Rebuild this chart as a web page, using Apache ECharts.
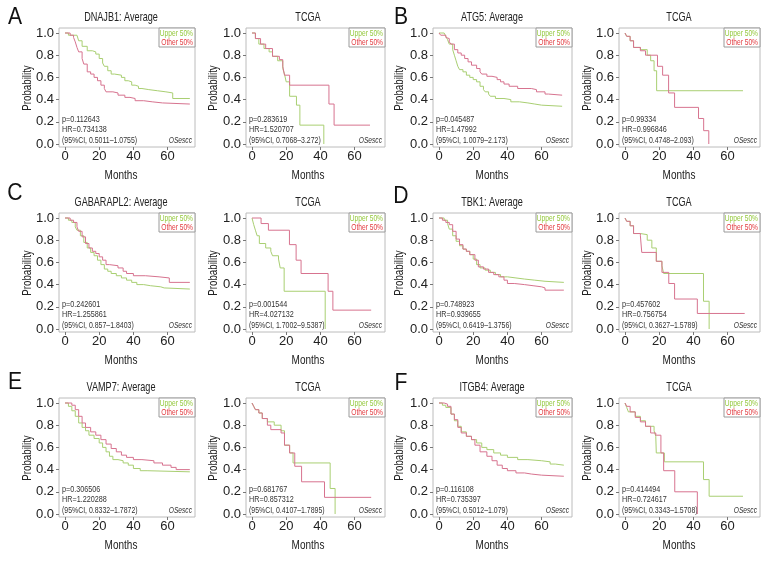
<!DOCTYPE html>
<html><head><meta charset="utf-8">
<script src="https://cdn.jsdelivr.net/npm/echarts@6/dist/echarts.min.js"></script>
<style>html,body{margin:0;padding:0;background:#fff}#c{width:780px;height:564px}</style>
</head><body><div id="c"></div><script>
// ---------- data ----------
const letters = ['A','B','C','D','E','F'];
const titles = ['DNAJB1: Average','TCGA','ATG5: Average','TCGA','GABARAPL2: Average','TCGA','TBK1: Average','TCGA','VAMP7: Average','TCGA','ITGB4: Average','TCGA'];
const pValues = ['0.112643','0.283619','0.045487','0.99334','0.242601','0.001544','0.748923','0.457602','0.306506','0.681767','0.116108','0.414494'];
const hrValues = ['0.734138','1.520707','1.47992','0.996846','1.255861','4.027132','0.939655','0.756754','1.220288','0.857312','0.735397','0.724617'];
const ciValues = ['0.5011–1.0755','0.7068–3.272','1.0079–2.173','0.4748–2.093','0.857–1.8403','1.7002–9.5387','0.6419–1.3756','0.3627–1.5789','0.8332–1.7872','0.4107–1.7895','0.5012–1.079','0.3343–1.5708'];
const legendNames = ['Upper 50%','Other 50%'];
const xTicks = [0,20,40,60];
const yTicks = [0,0.2,0.4,0.6,0.8,1.0];

const dnajb1AvgUpper = [[0,1],[2,0.98],[7,0.97],[8,0.93],[10,0.88],[13,0.84],[16,0.83],[18,0.81],[20,0.77],[22,0.73],[23,0.70],[25,0.66],[27,0.63],[29,0.62],[33,0.60],[35,0.57],[37,0.56],[39,0.53],[41,0.52],[43,0.50],[45,0.49],[49,0.48],[54,0.47],[59,0.46],[63,0.41],[73,0.41]];
const dnajb1AvgOther = [[0,1],[3,0.98],[5,0.96],[6,0.92],[7,0.87],[8,0.83],[10,0.77],[11,0.72],[13,0.65],[15,0.63],[17,0.60],[19,0.57],[21,0.53],[23,0.50],[24,0.47],[28,0.46],[31,0.44],[35,0.42],[38,0.41],[41,0.39],[46,0.38],[51,0.37],[57,0.36],[73,0.36]];
const dnajb1TcgaUpper = [[0,1],[2,0.95],[4,0.90],[7,0.86],[10,0.83],[12,0.79],[15,0.75],[18,0.68],[19,0.63],[20,0.56],[22,0.43],[26,0.35],[28,0.17],[42,0]];
const dnajb1TcgaOther = [[0,1],[2,0.95],[5,0.90],[8,0.86],[12,0.79],[16,0.76],[18,0.70],[19,0.62],[22,0.53],[45,0.36],[48,0.17],[69,0.17]];

const atg5AvgUpper = [[0,1],[3,1],[4,0.97],[5,0.94],[6,0.90],[8,0.85],[9,0.80],[10,0.75],[11,0.70],[12,0.67],[14,0.65],[16,0.62],[18,0.60],[20,0.58],[22,0.56],[24,0.52],[26,0.49],[27,0.47],[29,0.45],[30,0.43],[33,0.41],[38,0.40],[42,0.38],[47,0.37],[52,0.36],[56,0.35],[60,0.34],[72,0.34]];
const atg5AvgOther = [[0,1],[1,0.98],[4,0.96],[5,0.95],[6,0.92],[7,0.90],[9,0.85],[11,0.82],[13,0.80],[15,0.77],[17,0.74],[19,0.71],[22,0.68],[24,0.65],[25,0.63],[28,0.61],[31,0.60],[34,0.58],[36,0.56],[38,0.54],[41,0.52],[46,0.50],[54,0.49],[57,0.47],[62,0.45],[64,0.44],[72,0.44]];
const atg5TcgaUpper = [[0,1],[1,0.97],[3,0.93],[5,0.87],[9,0.85],[13,0.80],[15,0.75],[17,0.66],[18.5,0.48],[69,0.48]];
const atg5TcgaOther = [[0,1],[1,0.97],[3,0.93],[5,0.87],[9,0.84],[12,0.80],[19,0.70],[22,0.62],[25.5,0.46],[29,0.33],[43,0.23],[46,0.12],[49,0]];

const gabarapl2AvgUpper = [[0,1],[2,0.98],[4,0.96],[6,0.92],[7,0.89],[9,0.84],[11,0.78],[13,0.73],[15,0.69],[17,0.66],[19,0.62],[21,0.58],[23,0.54],[25,0.52],[27,0.50],[30,0.48],[33,0.46],[36,0.44],[39,0.42],[42,0.40],[46,0.39],[50,0.38],[56,0.37],[58,0.36],[73,0.36]];
const gabarapl2AvgOther = [[0,1],[3,0.98],[5,0.96],[7,0.92],[8,0.88],[10,0.83],[12,0.77],[14,0.73],[16,0.70],[18,0.68],[20,0.65],[22,0.62],[24,0.58],[26,0.57],[31,0.55],[34,0.52],[36,0.50],[40,0.48],[47,0.47],[55,0.46],[61,0.42],[73,0.42]];
const gabarapl2TcgaUpper = [[0,1],[1,0.94],[2,0.89],[3,0.84],[4.3,0.77],[8,0.73],[11,0.70],[12,0.66],[15.5,0.63],[16.5,0.55],[18.8,0.34],[42.8,0]];
const gabarapl2TcgaOther = [[0,1],[5.3,0.95],[9.6,0.89],[21.9,0.76],[25.8,0.62],[28.7,0.50],[44.5,0.34],[47.3,0.17],[69.7,0.17]];

const tbk1AvgUpper = [[0,1],[3,0.98],[5,0.95],[6,0.90],[8,0.84],[10,0.79],[12,0.75],[14,0.72],[16,0.70],[18,0.67],[20,0.63],[22,0.58],[24,0.55],[27,0.53],[30,0.51],[33,0.49],[36,0.47],[40,0.46],[45,0.45],[50,0.44],[56,0.43],[62,0.42],[73,0.42]];
const tbk1AvgOther = [[0,1],[2,0.98],[4,0.96],[6,0.94],[8,0.88],[10,0.81],[12,0.76],[14,0.72],[16,0.70],[18,0.67],[21,0.62],[23,0.56],[26,0.54],[29,0.51],[32,0.49],[35,0.47],[38,0.44],[40,0.41],[44,0.40],[50,0.39],[55,0.38],[60,0.37],[62,0.35],[73,0.35]];
const tbk1TcgaUpper = [[0,1],[1,0.97],[3,0.93],[5,0.86],[9,0.85],[13,0.80],[15.7,0.73],[18.3,0.61],[21.6,0.57],[22.6,0.50],[45.9,0.25],[49.2,0]];
const tbk1TcgaOther = [[0,1],[1,0.97],[3,0.93],[5,0.86],[9,0.84],[9.8,0.69],[18.3,0.61],[21.6,0.51],[25.6,0.41],[29,0.27],[42.3,0.14],[70,0.14]];

const vamp7AvgUpper = [[0,1],[2,0.97],[4,0.93],[6,0.88],[8,0.82],[10,0.78],[12,0.75],[14,0.71],[17,0.68],[20,0.64],[22,0.60],[24,0.56],[26,0.52],[28,0.49],[31,0.48],[34,0.46],[37,0.44],[40,0.41],[44,0.39],[48,0.38],[73,0.38]];
const vamp7AvgOther = [[0,1],[4,0.98],[6,0.94],[8,0.88],[10,0.82],[12,0.78],[15,0.74],[18,0.71],[21,0.67],[24,0.63],[27,0.59],[30,0.56],[33,0.53],[36,0.51],[40,0.49],[45,0.48],[52,0.46],[57,0.44],[62,0.42],[65,0.40],[73,0.40]];
const vamp7TcgaUpper = [[0,1],[1,0.97],[2,0.94],[4,0.91],[6,0.86],[9,0.83],[13,0.80],[17,0.75],[19,0.62],[22,0.55],[24,0.46],[45.7,0.23],[48.6,0]];
const vamp7TcgaOther = [[0,1],[1,0.97],[2,0.94],[4,0.91],[6,0.86],[9,0.80],[11,0.76],[17,0.73],[19,0.62],[22,0.55],[25,0.43],[29,0.29],[42.4,0.15],[69.7,0.15]];

const itgb4AvgUpper = [[0,1],[2,0.98],[4,0.96],[7,0.90],[9,0.84],[11,0.79],[13,0.74],[16,0.70],[19,0.67],[22,0.64],[25,0.60],[28,0.58],[32,0.55],[36,0.53],[40,0.51],[46,0.49],[52,0.48],[60,0.47],[65,0.45],[68,0.44],[73,0.44]];
const itgb4AvgOther = [[0,1],[3,0.99],[5,0.97],[7,0.90],[9,0.85],[11,0.78],[13,0.73],[16,0.70],[19,0.67],[21,0.62],[24,0.56],[28,0.52],[31,0.48],[34,0.44],[37,0.41],[40,0.39],[45,0.37],[50,0.36],[54,0.35],[60,0.34],[73,0.34]];
const itgb4TcgaUpper = [[0,1],[1,0.96],[2,0.92],[6,0.88],[9,0.84],[12,0.79],[17,0.75],[18,0.70],[18.3,0.55],[23,0.47],[45.9,0.31],[49.2,0.16],[69,0.16]];
const itgb4TcgaOther = [[0,1],[1,0.97],[3,0.92],[6,0.87],[9,0.83],[12,0.79],[15,0.73],[18,0.71],[21,0.55],[22.6,0.39],[29.1,0.20],[42.3,0]];

const upperSeries = [dnajb1AvgUpper,dnajb1TcgaUpper,atg5AvgUpper,atg5TcgaUpper,gabarapl2AvgUpper,gabarapl2TcgaUpper,tbk1AvgUpper,tbk1TcgaUpper,vamp7AvgUpper,vamp7TcgaUpper,itgb4AvgUpper,itgb4TcgaUpper];
const otherSeries = [dnajb1AvgOther,dnajb1TcgaOther,atg5AvgOther,atg5TcgaOther,gabarapl2AvgOther,gabarapl2TcgaOther,tbk1AvgOther,tbk1TcgaOther,vamp7AvgOther,vamp7TcgaOther,itgb4AvgOther,itgb4TcgaOther];

// ---------- layout ----------
const FONT = "'Liberation Sans',Arial,sans-serif";
const GREEN_LINE = '#a9cf72', RED_LINE = '#d7738f', GREEN_TXT = '#94c83c', RED_TXT = '#e23a3f';
const rowTop = [28, 213, 398];
const boxH = 119;
const colLeft = [59, 246, 433, 619];
const colW = [136, 139, 139, 141];
const pxPerMonth = 1.71, pxPerUnit = 111;
const titleX = [121, 308, 492, 679];
const probX = [27, 213, 399, 587];
const letterPos = [[15,17],[401,17],[15,193],[401,196],[15,382],[401,383]];

const grids = [], xAxes = [], yAxes = [], series = [], graphics = [];
function txt(x, y, text, size, color, align, sx, opt) {
  opt = opt || {};
  const e = {type:'text', x:x, y:y, silent:true, scaleX:sx, scaleY:1,
    style:{text:text, font:(opt.italic ? 'italic ' : '') + size + 'px ' + FONT, fill:color, textAlign:align, textVerticalAlign:'middle'}};
  if (opt.rotation) e.rotation = opt.rotation;
  return e;
}
for (let i = 0; i < 12; i++) {
  const r = Math.floor(i / 4), c = i % 4;
  const left = colLeft[c], top = rowTop[r], w = colW[c], h = boxH;
  const right = left + w, bottom = top + h;
  grids.push({left:left, top:top, width:w, height:h, show:true, borderColor:'#bcbcbc', borderWidth:1, backgroundColor:'transparent'});
  xAxes.push({gridIndex:i, type:'value', min:-6/pxPerMonth, max:(w-6)/pxPerMonth,
    axisLine:{show:false, onZero:false}, splitLine:{show:false},
    axisTick:{show:true, customValues:xTicks, length:3, lineStyle:{color:'#777'}},
    axisLabel:{customValues:xTicks, fontSize:13, color:'#222', margin:3, fontFamily:FONT}});
  yAxes.push({gridIndex:i, type:'value', min:-(h-116)/pxPerUnit, max:1+5/pxPerUnit,
    axisLine:{show:false, onZero:false}, splitLine:{show:false},
    axisTick:{show:true, customValues:yTicks, length:3, lineStyle:{color:'#777'}},
    axisLabel:{customValues:yTicks, fontSize:13, color:'#222', margin:5, fontFamily:FONT, formatter:v => v.toFixed(1)}});
  series.push({type:'line', name:legendNames[0], xAxisIndex:i, yAxisIndex:i, step:'end', showSymbol:false, data:upperSeries[i], lineStyle:{color:GREEN_LINE, width:1}, itemStyle:{color:GREEN_LINE}, silent:true});
  series.push({type:'line', name:legendNames[1], xAxisIndex:i, yAxisIndex:i, step:'end', showSymbol:false, data:otherSeries[i], lineStyle:{color:RED_LINE, width:1}, itemStyle:{color:RED_LINE}, silent:true});
  graphics.push(txt(titleX[c], top - 10.5, titles[i], 13, '#222', 'center', 0.7));
  graphics.push(txt(titleX[c], top + 147.5, 'Months', 13.5, '#222', 'center', 0.74));
  graphics.push(txt(probX[c], top + 60, 'Probability', 13.5, '#222', 'center', 0.72, {rotation:Math.PI/2}));
  graphics.push({type:'rect', silent:true, shape:{x:right-36, y:top, width:36, height:19}, style:{fill:'#fff', stroke:'#9a9a9a', lineWidth:1}});
  graphics.push(txt(right - 2, top + 5, legendNames[0], 9.5, GREEN_TXT, 'right', 0.7));
  graphics.push(txt(right - 2, top + 14, legendNames[1], 9.5, RED_TXT, 'right', 0.7));
  graphics.push(txt(left + 3, bottom - 28, 'p=' + pValues[i], 9.5, '#333', 'left', 0.76));
  graphics.push(txt(left + 3, bottom - 17.5, 'HR=' + hrValues[i], 9.5, '#333', 'left', 0.76));
  graphics.push(txt(left + 3, bottom - 7, '(95%CI, ' + ciValues[i] + ')', 9.5, '#333', 'left', 0.73));
  graphics.push(txt(right - 3, bottom - 7, 'OSescc', 9.5, '#333', 'right', 0.7, {italic:true}));
}
letters.forEach((L, k) => graphics.push(txt(letterPos[k][0], letterPos[k][1], L, 24, '#111', 'center', 0.88)));

const chart = echarts.init(document.getElementById('c'), null, {renderer:'canvas'});
chart.setOption({animation:false, backgroundColor:'#fff', grid:grids, xAxis:xAxes, yAxis:yAxes, series:series, graphic:{elements:graphics}});
</script></body></html>
